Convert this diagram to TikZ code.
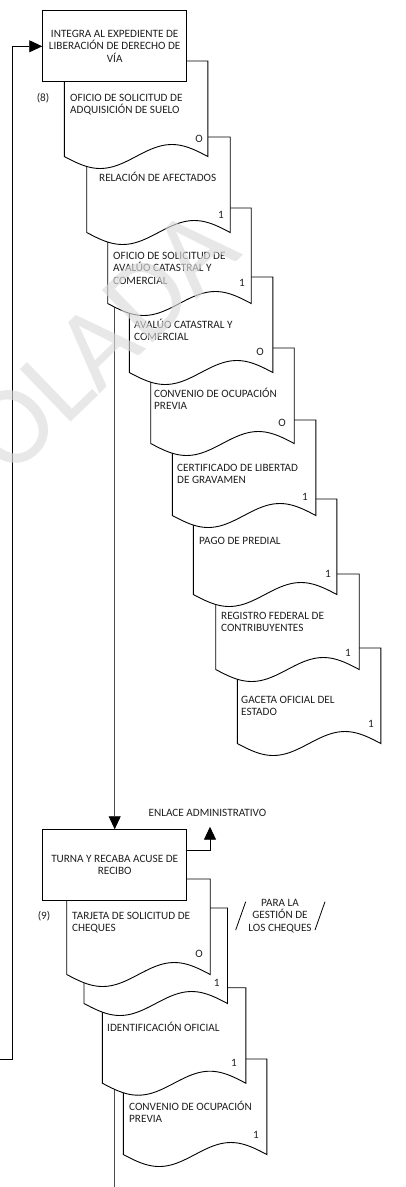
\documentclass[tikz,border=0pt]{standalone}
\usepackage{fontspec}
\setmainfont{Carlito}
\usetikzlibrary{arrows.meta}
\tikzset{
  every node/.style={font=\fontsize{11.2}{12.2}\selectfont, text=black!88, inner sep=0pt},
  proc/.style={draw, fill=white, line width=0.9pt, minimum width=144pt, minimum height=71pt, align=center},
  % multi-line titles are anchored at the baseline of their last line
  doctext/.style={anchor=base west, align=left},
  sheet/.style={draw, fill=white, line width=0.9pt},
  flow/.style={line width=0.9pt, -{Triangle[length=13pt,width=12pt,color=black]}},
  trunk/.style={line width=0.9pt, draw=black!70},
  docsheet/.pic={
    \path[sheet] (0,0) -- (143.5,0) -- (143.5,95.5)
      -- plot[domain=1:0, samples=49, smooth] ({143.5*\x},{95.5+12*sin(360*\x)})
      -- (0,95.5) -- cycle;
  },
  watermark/.style={font=\fontsize{114}{114}\selectfont, text=black!14, text opacity=0.65}
}
\begin{document}
\begin{tikzpicture}[x={(1pt,0pt)}, y={(0pt,-1pt)}]
\useasboundingbox (0,0) rectangle (406,1187);

% process boxes (placed first so connectors can refer to them)
\path (114.7,46.3) node[proc, draw=none, fill=none, text opacity=0] (p8) {INTEGRA AL EXPEDIENTE DE\\LIBERACIÓN DE DERECHO DE\\VÍA};
\path (114.7,865.2) node[proc, draw=none, fill=none, text opacity=0] (p9) {TURNA Y RECABA ACUSE DE\\RECIBO};

% connectors running behind the document stacks
\coordinate (loopin) at (0,1059);
\coordinate (tail) at (114.7,1187);
\draw[flow] (loopin) -- ++(12.7,0) |- (p8.west);
\draw[trunk, flow] (p8.south) -- (p9.north);
\draw[trunk] (p9.south) -- (tail);

% first stack of documents, back to front
\pic at (237.3,648) {docsheet};
\pic at (215.7,574) {docsheet};
\pic at (193.3,499) {docsheet};
\pic at (172.3,420) {docsheet};
\pic at (150.7,348) {docsheet};
\pic at (129.3,277) {docsheet};
\pic at (107.7,208) {docsheet};
\pic at (86.7,137) {docsheet};
\pic at (64.3,61) {docsheet};

% second stack of documents, back to front
\pic at (123.3,1059) {docsheet};
\pic at (102.3,987.7) {docsheet};
\pic at (84,908) {docsheet};
\pic at (66.7,879) {docsheet};

% visible process boxes
\node[proc] (b8) at (p8) {INTEGRA AL EXPEDIENTE DE\\LIBERACIÓN DE DERECHO DE\\VÍA};
\node[proc] (b9) at (p9) {TURNA Y RECABA ACUSE DE\\RECIBO};

% step numbers
\node (n8) at (43,98) {(8)};
\node (n9) at (44,916) {(9)};

% document titles
\node[doctext] (d1) at (70,113.8) {OFICIO DE SOLICITUD DE\\ADQUISICIÓN DE SUELO};
\node[doctext] (d2) at (99,181.6) {RELACIÓN DE AFECTADOS};
\node[doctext] (d3) at (113,284.0) {OFICIO DE SOLICITUD DE\\AVALÚO CATASTRAL Y\\COMERCIAL};
\node[doctext] (d4) at (134,340.8) {AVALÚO CATASTRAL Y\\COMERCIAL};
\node[doctext] (d5) at (154,409.8) {CONVENIO DE OCUPACIÓN\\PREVIA};
\node[doctext] (d6) at (177,483.8) {CERTIFICADO DE LIBERTAD\\DE GRAVAMEN};
\node[doctext] (d7) at (199,544.6) {PAGO DE PREDIAL};
\node[doctext] (d8) at (221,631.8) {REGISTRO FEDERAL DE\\CONTRIBUYENTES};
\node[doctext] (d9) at (241,715.8) {GACETA OFICIAL DEL\\ESTADO};
\node[doctext] (e1) at (72,931.8) {TARJETA DE SOLICITUD DE\\CHEQUES};
\node[doctext] (e3) at (107,1031.6) {IDENTIFICACIÓN OFICIAL};
\node[doctext] (e4) at (129,1122.8) {CONVENIO DE OCUPACIÓN\\PREVIA};

% copy tags
\node (c1) at (199,139) {O};
\node (c2) at (221,215) {1};
\node (c3) at (242,283) {1};
\node (c4) at (260,352) {O};
\node (c5) at (282,423) {O};
\node (c6) at (305,497) {1};
\node (c7) at (328,574) {1};
\node (c8) at (348,653) {1};
\node (c9) at (371,724) {1};
\node (k1) at (199,954) {O};
\node (k2) at (216.7,983) {1};
\node (k3) at (234,1063) {1};
\node (k4) at (256,1135) {1};

% output to the administrative liaison
\node (enlace) at (207.5,813) {ENLACE ADMINISTRATIVO};
\coordinate (enlacetip) at (210,826.7);
\draw[flow] ([yshift=14.3pt]b9.east) -| (enlacetip);

% purpose note between slashes
\node[align=center] (para) at (280,916) {PARA LA\\GESTIÓN DE\\LOS CHEQUES};
\draw[line width=0.8pt] (245.7,901.7) -- (235.7,930);
\draw[line width=0.8pt] (325,901.7) -- (315,930);

% watermark
\node[watermark, rotate=44] (wm) at (102,341) {OLADA};
\end{tikzpicture}
\end{document}
